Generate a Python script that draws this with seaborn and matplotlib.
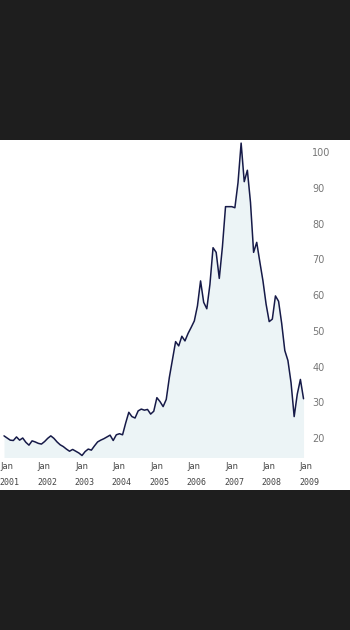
import numpy as np
import matplotlib
matplotlib.use("Agg")
import matplotlib.pyplot as plt
import seaborn as sns
from matplotlib.patches import Rectangle
from matplotlib.transforms import ScaledTranslation, blended_transform_factory

# Monthly closing price, Jan 2001 - Jan 2009
prices = [
    20.6, 20.0, 19.4, 19.3, 20.3, 19.4, 20.0, 18.8, 18.0, 19.2, 18.9, 18.5,
    18.3, 19.0, 19.9, 20.6, 19.9, 18.9, 18.1, 17.6, 16.9, 16.3, 16.8, 16.3,
    15.8, 15.1, 16.2, 16.9, 16.6, 17.8, 18.9, 19.4, 19.8, 20.3, 20.8, 19.3,
    20.9, 21.2, 20.9, 24.2, 27.2, 26.0, 25.6, 27.6, 28.1, 27.8, 28.0, 26.7,
    27.5, 31.3, 30.2, 28.8, 30.8, 37.0, 42.0, 47.0, 45.8, 48.5, 47.2, 49.3,
    51.0, 52.8, 57.0, 64.0, 58.0, 56.2, 63.0, 73.3, 72.0, 64.7, 73.5, 84.8,
    84.8, 84.8, 84.5, 91.5, 102.6, 91.8, 95.0, 86.0, 72.0, 74.8, 69.3, 64.0,
    57.5, 52.6, 53.3, 59.8, 58.3, 52.1, 44.5, 41.7, 35.5, 26.0, 32.3, 36.4,
    31.0,
]
start_year = 2001
tick_years = list(range(2001, 2010))
month_label = "Jan"
y_ticks = list(range(20, 101, 10))

t = start_year + np.arange(len(prices)) / 12.0

sns.set_style("white")

W, H = 350, 630
fig = plt.figure(figsize=(W / 100, H / 100), dpi=100, facecolor="#1e1e1e")

# white chart band across the full width, behind the axes
fig.patches.append(Rectangle((0, 1 - 490 / H), 1, 350 / H,
                             transform=fig.transFigure, facecolor="white",
                             edgecolor="none", zorder=-5))

ax = fig.add_axes([0, 1 - 457 / H, 310 / W, 317 / H])
ax.set_zorder(2)
ax.patch.set_alpha(0)

ax.fill_between(t, prices, 0, color="#ecf4f6", lw=0, zorder=1)
sns.lineplot(x=t, y=prices, ax=ax, color="#161a48", lw=1.1, zorder=2)

ax.set_xlim(2000.893, 2009.173)
ax.set_ylim(14.68, 103.47)
for s in ax.spines.values():
    s.set_visible(False)

ax.yaxis.tick_right()
ax.set_yticks(y_ticks)
ax.set_yticklabels([str(v) for v in y_ticks], fontsize=7, color="#777777")
ax.tick_params(axis="y", length=0, pad=1.5)

# month name as the tick label, year on a second row below it
ax.set_xticks(tick_years)
ax.set_xticklabels([month_label] * len(tick_years), fontsize=6,
                   color="#444444")
ax.tick_params(axis="x", length=0, pad=3.5)
shift = ScaledTranslation(2.8 / 100, 0, fig.dpi_scale_trans)
for lbl in ax.get_xticklabels():
    lbl.set_transform(lbl.get_transform() + shift)

year_tr = blended_transform_factory(ax.transData, ax.transAxes) + \
    ScaledTranslation(5.5 / 100, -21 / 100, fig.dpi_scale_trans)
for yr in tick_years:
    ax.text(yr, 0, str(yr), transform=year_tr, ha="center", va="top",
            fontsize=6, color="#444444", family="DejaVu Sans Mono")

ax.set_xlabel("")
ax.set_ylabel("")
ax.grid(False)

fig.savefig("out.png", dpi=100, facecolor=fig.get_facecolor())
